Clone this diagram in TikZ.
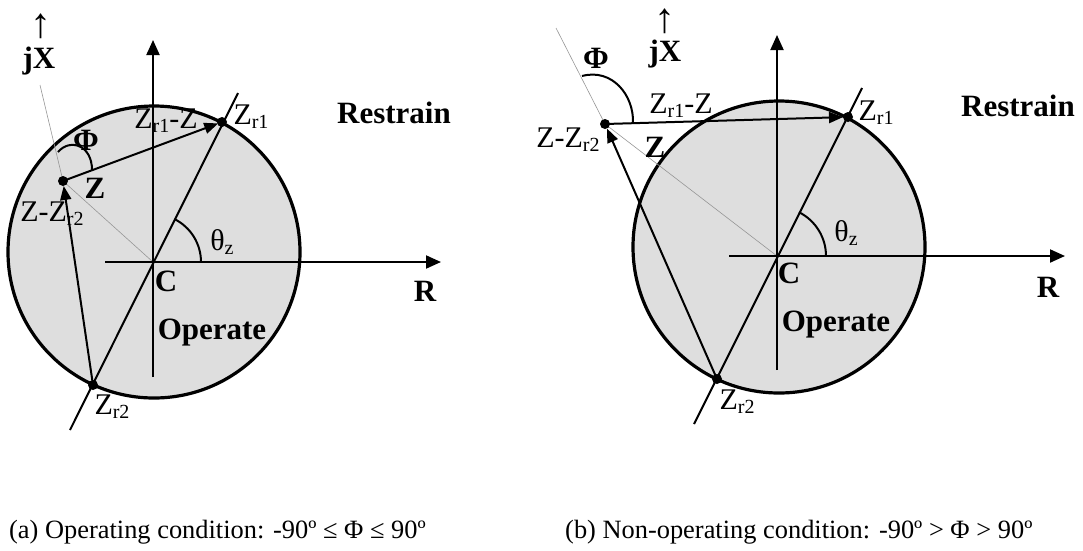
\documentclass[tikz,border=0pt]{standalone}
\usepackage{fontspec}
\setmainfont{Liberation Serif}
\usetikzlibrary{arrows.meta}
\newcommand{\zsb}[1]{\raisebox{-4pt}{\fontsize{20}{20}\selectfont #1}}
\definecolor{opfill}{RGB}{222,222,222}
\definecolor{thinline}{RGB}{150,150,150}
\begin{document}
\begin{tikzpicture}[x=1pt,y=-1pt,
  axisline/.style={line width=2pt,-{Triangle[length=15pt,width=13pt]}},
  plainline/.style={line width=2pt},
  vecline/.style={line width=2pt,-{Triangle[length=14pt,width=11pt]}},
  ring/.style={line width=3.2pt,draw=black,fill=opfill},
  thinref/.style={line width=0.6pt,draw=thinline},
  angarc/.style={line width=2pt},
  lbl/.style={inner sep=0pt,font=\fontsize{30}{36}\selectfont},
  blbl/.style={inner sep=0pt,font=\fontsize{31}{36}\selectfont\bfseries},
  uplbl/.style={inner sep=0pt,anchor=base,font=\fontsize{42}{44}\selectfont},
  captxt/.style={inner sep=0pt,anchor=base west,font=\fontsize{26.4}{30}\selectfont}]
\useasboundingbox (0,0) rectangle (1083,550);
% ---------------- left diagram ----------------
\coordinate (aO) at (154,252);
\coordinate (aC) at (153,262);
\coordinate (aZ) at (63,181);
\coordinate (aR1) at (222,122);
\coordinate (aR2) at (93,385);
\coordinate (aTop) at (40,85);
\coordinate (aDa) at (70,430);
\coordinate (aDb) at (238,93);
\coordinate (aVa) at (153,377);
\coordinate (aVb) at (153,40);
\coordinate (aHa) at (105,262);
\coordinate (aHb) at (441,262);
\coordinate (aPa) at (58,152);
\coordinate (aPb) at (92,170);
\draw[ring] (aO) circle[radius=146pt];
\draw[thinref] (aTop) -- (aZ) -- (aC);
\draw[axisline] (aVa) -- (aVb);
\draw[axisline] (aHa) -- (aHb);
\draw[plainline] (aDa) -- (aDb);
\draw[vecline,shorten >=4pt] (aZ) -- (aR1);
\draw[vecline,shorten >=5pt] (aR2) -- (aZ);
\draw[angarc] (aPa) .. controls (70,138) and (92,145) .. (aPb);
\draw[angarc] ([shift={(-63.4:48)}]aC) arc[start angle=-63.4,end angle=0,radius=48];
\fill (aZ) circle[radius=5pt];
\fill (aR1) circle[radius=5pt];
\fill (aR2) circle[radius=5pt];
\node[uplbl] (aup) at (41,37) {↑};
\node[blbl] (ajx) at (39,61) {jX};
\node[lbl] (azr1) at (251,117) {Z\zsb{r1}};
\node[lbl] (adiff1) at (166,121) {Z\zsb{r1}-Z};
\node[blbl] (aphi) at (86,140) {Φ};
\node[blbl] (az) at (95,188) {Z};
\node[lbl] (adiff2) at (52,214) {Z-Z\zsb{r2}};
\node[lbl] (ath) at (222,242) {θ\zsb{z}};
\node[blbl] (ac) at (166,281) {C};
\node[blbl] (aop) at (212,333) {Operate};
\node[lbl] (azr2) at (112,407) {Z\zsb{r2}};
\node[blbl] (ares) at (394,113) {Restrain};
\node[blbl] (ar) at (425,291) {R};
\node[captxt] (acap) at (9,538) {(a) Operating condition: -90º ≤ Φ ≤ 90º};
% ---------------- right diagram ----------------
\coordinate (bO) at (779,247);
\coordinate (bC) at (777,256);
\coordinate (bZ) at (605,124);
\coordinate (bR1) at (848,117);
\coordinate (bR2) at (717,379);
\coordinate (bTop) at (556,28);
\coordinate (bDa) at (694,424);
\coordinate (bDb) at (862,88);
\coordinate (bVa) at (777,370);
\coordinate (bVb) at (777,35);
\coordinate (bHa) at (729,256);
\coordinate (bHb) at (1065,256);
\coordinate (bPa) at (582,76);
\coordinate (bPb) at (633,123);
\draw[ring] (bO) circle[radius=146pt];
\draw[thinref] (bTop) -- (bZ) -- (bC);
\draw[axisline] (bVa) -- (bVb);
\draw[axisline] (bHa) -- (bHb);
\draw[plainline] (bDa) -- (bDb);
\draw[vecline,shorten >=5pt] (bZ) -- (bR1);
\draw[vecline,shorten >=5pt] (bR2) -- (bZ);
\draw[angarc] (bPa) .. controls (612,68) and (634,95) .. (bPb);
\draw[angarc] ([shift={(-63.4:49)}]bC) arc[start angle=-63.4,end angle=0,radius=49];
\fill (bZ) circle[radius=5pt];
\fill (bR1) circle[radius=5pt];
\fill (bR2) circle[radius=5pt];
\node[uplbl] (bup) at (665,32) {↑};
\node[blbl] (bjx) at (665,54) {jX};
\node[blbl] (bphi) at (596,58) {Φ};
\node[lbl] (bdiff1) at (681,106) {Z\zsb{r1}-Z};
\node[lbl] (bdiff2) at (568,140) {Z-Z\zsb{r2}};
\node[blbl] (bz) at (655,147) {Z};
\node[lbl] (bzr1) at (876,113) {Z\zsb{r1}};
\node[blbl] (bres) at (1018,106) {Restrain};
\node[lbl] (bth) at (846,233) {θ\zsb{z}};
\node[blbl] (br) at (1048,287) {R};
\node[blbl] (bc) at (789,273) {C};
\node[blbl] (bop) at (836,325) {Operate};
\node[lbl] (bzr2) at (737,402) {Z\zsb{r2}};
\node[captxt] (bcap) at (565,538) {(b) Non-operating condition: -90º > Φ > 90º};
\end{tikzpicture}
\end{document}
